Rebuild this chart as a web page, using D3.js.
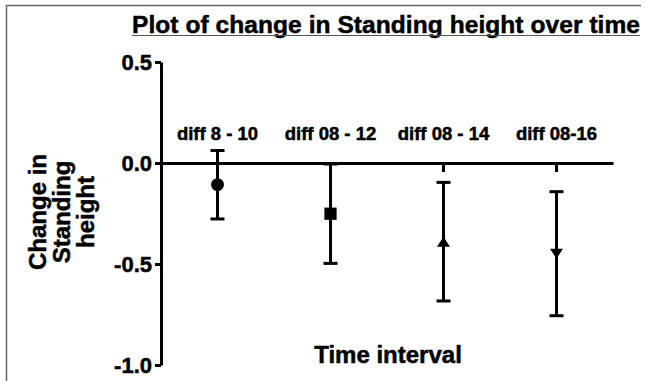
<!doctype html>
<html>
  <head>
    <script src="https://cdn.jsdelivr.net/npm/d3@7"></script>
    <style>
      body { margin: 0; background: #fff; }
      text { font-family: "Liberation Sans", Arial, sans-serif; font-weight: bold; fill: #000;
             stroke: #000; stroke-width: 0.5px; }
    </style>
  </head>
  <body>
    <svg id="chart" width="646" height="381"></svg>

    <script>
      // values
      var categories = ["diff 8 - 10", "diff 08 - 12", "diff 08 - 14", "diff 08-16"];
      var means  = [-0.107, -0.251, -0.390, -0.449];
      var lowers = [-0.277, -0.497, -0.683, -0.756];
      var uppers = [ 0.062, -0.005, -0.096, -0.142];
      var markers = ["circle", "square", "triangleUp", "triangleDown"];
      var yTicks = [0.5, 0.0, -0.5, -1.0];
      var yTickLabels = ["0.5", "0.0", "-0.5", "-1.0"];

      var svg = d3.select("#chart");

      // frame (top and left edges only are visible)
      svg.append("line").attr("x1", 6).attr("y1", 5.5).attr("x2", 641).attr("y2", 5.5)
        .attr("stroke", "#666").attr("stroke-width", 1.5);
      svg.append("line").attr("x1", 6.5).attr("y1", 5).attr("x2", 6.5).attr("y2", 381)
        .attr("stroke", "#666").attr("stroke-width", 1.5);

      var x = d3.scaleBand().domain(categories).range([161, 613]).padding(0);
      var y = d3.scaleLinear().domain([-1, 0.5]).range([365, 62]);

      // y axis
      var yAxis = svg.append("g")
        .attr("transform", "translate(161,0)")
        .call(d3.axisLeft(y).tickValues(yTicks).tickSize(6).tickSizeOuter(0)
          .tickFormat(function(d, i) { return yTickLabels[i]; }));
      yAxis.select(".domain").attr("stroke", "#000").attr("stroke-width", 3);
      yAxis.selectAll(".tick line").attr("stroke", "#000").attr("stroke-width", 3);
      yAxis.selectAll(".tick text").attr("x", -9).attr("dy", "0.36em")
        .style("font-size", "22px");

      // x axis along zero
      var xAxis = svg.append("g")
        .attr("transform", "translate(0," + y(0) + ")")
        .call(d3.axisBottom(x).tickSize(9).tickSizeOuter(0));
      xAxis.select(".domain").attr("stroke", "#000").attr("stroke-width", 3);
      xAxis.selectAll(".tick line").attr("stroke", "#000").attr("stroke-width", 3);
      xAxis.selectAll(".tick text").attr("y", -23).attr("dy", 0)
        .style("font-size", "18.5px");

      // error bars
      var capW = 7;
      var bars = svg.append("g").selectAll("g")
        .data(categories)
        .enter()
        .append("g")
          .attr("stroke", "#000")
          .attr("stroke-width", 3);
      bars.append("line")
        .attr("x1", function(d) { return x(d) + x.bandwidth() / 2; })
        .attr("x2", function(d) { return x(d) + x.bandwidth() / 2; })
        .attr("y1", function(d, i) { return y(uppers[i]); })
        .attr("y2", function(d, i) { return y(lowers[i]); });
      bars.append("line")
        .attr("x1", function(d) { return x(d) + x.bandwidth() / 2 - capW; })
        .attr("x2", function(d) { return x(d) + x.bandwidth() / 2 + capW; })
        .attr("y1", function(d, i) { return y(uppers[i]); })
        .attr("y2", function(d, i) { return y(uppers[i]); });
      bars.append("line")
        .attr("x1", function(d) { return x(d) + x.bandwidth() / 2 - capW; })
        .attr("x2", function(d) { return x(d) + x.bandwidth() / 2 + capW; })
        .attr("y1", function(d, i) { return y(lowers[i]); })
        .attr("y2", function(d, i) { return y(lowers[i]); });

      // mean markers
      function markerPath(type) {
        if (type == "circle") return d3.symbol().type(d3.symbolCircle).size(Math.PI * 42)();
        if (type == "square") return d3.symbol().type(d3.symbolSquare).size(150)();
        if (type == "triangleUp") return "M0,-5L6.5,5L-6.5,5Z";
        return "M0,5L6.5,-5L-6.5,-5Z";
      }
      svg.append("g").selectAll("path")
        .data(categories)
        .enter()
        .append("path")
          .attr("transform", function(d, i) {
            return "translate(" + (x(d) + x.bandwidth() / 2) + "," + y(means[i]) + ")";
          })
          .attr("d", function(d, i) { return markerPath(markers[i]); })
          .attr("fill", "#000");

      // title, underlined
      var title = svg.append("text")
        .attr("x", 386).attr("y", 33)
        .attr("text-anchor", "middle")
        .style("font-size", "24.5px")
        .attr("textLength", 508)
        .text("Plot of change in Standing height over time");
      var tb = title.node().getBBox();
      svg.append("line")
        .attr("x1", tb.x).attr("x2", tb.x + tb.width)
        .attr("y1", 35.5).attr("y2", 35.5)
        .attr("stroke", "#555").attr("stroke-width", 1.2);

      // axis titles
      svg.append("text")
        .attr("x", 388).attr("y", 363)
        .attr("text-anchor", "middle")
        .style("font-size", "24px")
        .text("Time interval");

      var yTitle = ["Change in", "Standing", "height"];
      svg.append("g")
        .attr("transform", "translate(0,212) rotate(-90)")
        .selectAll("text")
        .data(yTitle)
        .enter()
        .append("text")
          .attr("x", 0)
          .attr("y", function(d, i) { return 46 + i * 24; })
          .attr("text-anchor", "middle")
          .style("font-size", "24px")
          .text(function(d) { return d; });
    </script>
  </body>
</html>
